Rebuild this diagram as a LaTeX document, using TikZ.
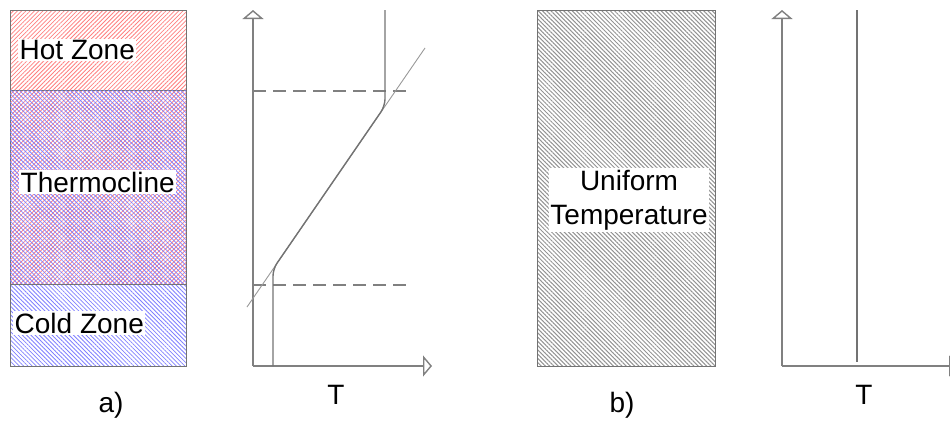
\documentclass[tikz,border=0pt]{standalone}
\usepackage{fontspec}
\setmainfont{Liberation Sans}
\usetikzlibrary{positioning,arrows.meta,patterns.meta}

\begin{document}
\begin{tikzpicture}[
    x=1pt, y=-1pt,
    zone/.style={
        draw=gray!90!black,
        line width=1pt,
        outer sep=0pt,
        inner sep=0pt,
        minimum width=176pt
    },
    hotfill/.style={pattern={Lines[angle=45,distance=3pt,line width=0.8pt]}, pattern color=red!50},
    coldfill/.style={pattern={Lines[angle=-45,distance=3pt,line width=0.8pt]}, pattern color=blue!50},
    grayfill/.style={pattern={Lines[angle=-45,distance=3pt,line width=1pt]}, pattern color=gray!85},
    zonelabel/.style={fill=white, inner sep=1.5pt, font=\fontsize{28}{34}\selectfont},
    caption/.style={font=\fontsize{28}{34}\selectfont},
    axisline/.style={draw=gray, line width=1.4pt, -{Triangle[open, length=9pt, width=21pt]}},
    guide/.style={draw=gray, line width=1.3pt, dash pattern=on 13pt off 7pt},
    profile/.style={draw=gray!90!black, line width=1.4pt, rounded corners=7pt},
    trend/.style={draw=gray!80, line width=0.9pt}
]
\useasboundingbox (0,0) rectangle (950,423);
\clip (0,0) rectangle (950,423);

% a) stratified tank
\node[zone, hotfill, minimum height=80pt, anchor=north west] (hot) at (10,10) {};
\node[zone, hotfill, minimum height=194pt, below=0pt of hot,
      postaction={coldfill}] (thermo) {};
\node[zone, coldfill, minimum height=82pt, below=0pt of thermo] (cold) {};

\node[zonelabel, anchor=west] (hotlbl) at ([xshift=8pt]hot.west) {Hot Zone};
\node[zonelabel, anchor=west] (thermolbl) at ([xshift=9pt, yshift=5pt]thermo.west) {Thermocline};
\node[zonelabel, anchor=west] (coldlbl) at ([xshift=3pt, yshift=2pt]cold.west) {Cold Zone};

\node[caption] (capa) at (111,405) {a)};

% a) temperature profile
\coordinate (Oa) at (253,366);
\coordinate (Ya) at (253,10);
\coordinate (Xa) at (432,366);
\draw[axisline] (Oa) -- (Ya);
\draw[axisline] (Oa) -- (Xa);

\coordinate (hiL) at (253,91);
\coordinate (hiR) at (407,91);
\coordinate (loL) at (253,285);
\coordinate (loR) at (407,285);
\draw[guide] (hiL) -- (hiR);
\draw[guide] (loL) -- (loR);

\coordinate (trTop) at (425,48);
\coordinate (trBot) at (247,307);
\draw[trend] (trTop) -- (trBot);

\coordinate (hotTop) at (385,10);
\coordinate (hotKnee) at (385,106);
\coordinate (coldKnee) at (273,269);
\coordinate (coldBot) at (273,366);
\draw[profile] (hotTop) -- (hotKnee) -- (coldKnee) -- (coldBot);

\node[caption] (Ta) at (336,395) {T};

% b) mixed tank
\node[zone, grayfill, minimum width=178pt, minimum height=356pt, anchor=north west] (uniform) at (537,10) {};
\node[zonelabel, align=center] (unilbl) at ([xshift=3pt, yshift=-12pt]uniform.center) {Uniform\\Temperature};

\node[caption] (capb) at (622,405) {b)};

% b) temperature profile
\coordinate (Ob) at (782,366);
\coordinate (Yb) at (782,10);
\coordinate (Xb) at (958,366);
\draw[axisline] (Ob) -- (Yb);
\draw[axisline] (Ob) -- (Xb);

\coordinate (uniTop) at (857,10);
\coordinate (uniBot) at (857,362);
\draw[profile] (uniTop) -- (uniBot);

\node[caption] (Tb) at (864,395) {T};

\end{tikzpicture}
\end{document}
